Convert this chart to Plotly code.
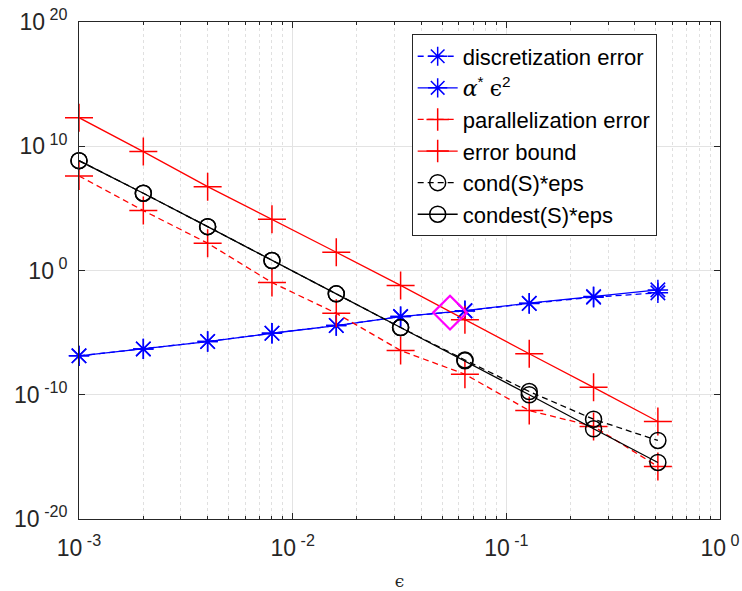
import plotly.graph_objects as go

eps_vals = [0.001, 0.002, 0.004, 0.008, 0.016, 0.032, 0.064, 0.128, 0.256, 0.512]

# log10 values
disc_err_log = [-6.87, -6.31, -5.72, -5.05, -4.43, -3.71, -3.25, -2.65, -2.15, -1.80]
alpha_eps2_log = [-6.87, -6.31, -5.72, -5.05, -4.43, -3.71, -3.23, -2.63, -2.10, -1.56]
par_err_log = [7.61, 4.82, 2.20, -0.97, -3.44, -6.44, -8.35, -11.27, -12.55, -15.78]
err_bound_log = [12.30, 9.57, 6.75, 4.13, 1.47, -1.20, -3.97, -6.70, -9.40, -12.15]
cond_log = [8.84, 6.22, 3.53, 0.80, -1.88, -4.59, -7.20, -9.74, -11.97, -13.68]
condest_log = [8.84, 6.22, 3.53, 0.80, -1.88, -4.59, -7.27, -10.00, -12.74, -15.45]
cross_x = [0.0545]
cross_y_log = [-3.39]

names = ["discretization error",
         "<span style=\"font-family:'DejaVu Serif',serif;font-style:italic\">\u03b1</span><sup>*</sup> "
         "<span style=\"font-family:'DejaVu Serif',serif\">\u03f5</span><sup>2</sup>",
         "parallelization error", "error bound", "cond(S)*eps", "condest(S)*eps"]

SUP = "<sup style=\"font-size:92%\">"
y_tick_vals = [1e-20, 1e-10, 1e0, 1e10, 1e20]
y_tick_text = ["10" + SUP + " -20</sup>", "10" + SUP + " -10</sup>", "10" + SUP + " 0</sup>",
               "10" + SUP + " 10</sup>", "10" + SUP + " 20</sup>"]
x_tick_vals = [1e-3, 1e-2, 1e-1, 1e0]
x_tick_text = ["10" + SUP + " -3</sup>", "10" + SUP + " -2</sup>", "10" + SUP + " -1</sup>",
               "10" + SUP + " 0</sup>"]

def p(v):
    return [10 ** a for a in v]

fig = go.Figure()
dash = "6px,4px"
lw = 1.3
series = [
    (disc_err_log, "#0000ff", dash, "asterisk-open", 17),
    (alpha_eps2_log, "#0000ff", "solid", "asterisk-open", 17),
    (par_err_log, "#ff0000", dash, "cross-thin-open", 20),
    (err_bound_log, "#ff0000", "solid", "cross-thin-open", 20),
    (cond_log, "#000000", dash, "circle-open", 16),
    (condest_log, "#000000", "solid", "circle-open", 16),
]
for (vals, col, d, sym, sz), nm in zip(series, names):
    fig.add_trace(go.Scatter(
        x=eps_vals, y=p(vals), name=nm, mode="lines+markers", cliponaxis=False,
        line=dict(color=col, width=lw, dash=d),
        marker=dict(symbol=sym, size=sz, color=col, line=dict(color=col, width=1.5)),
    ))

fig.add_trace(go.Scatter(
    x=cross_x, y=p(cross_y_log), mode="markers", showlegend=False, cliponaxis=False,
    marker=dict(symbol="diamond-open", size=26, color="#ff00ff", line=dict(color="#ff00ff", width=2.2)),
))

axis_common = dict(
    showline=True, linecolor="#262626", linewidth=1, mirror="allticks",
    ticks="inside", tickcolor="#262626", ticklen=6, automargin=False,
    tickfont=dict(family="Liberation Sans, Arial, sans-serif", size=23, color="#262626"),
    showgrid=True, gridcolor="#e3e3e3", gridwidth=1, zeroline=False,
)

fig.update_xaxes(
    type="log", range=[-3, 0], tickmode="array", tickvals=x_tick_vals, ticktext=x_tick_text,
    minor=dict(ticks="inside", ticklen=3, tickcolor="#262626", showgrid=True,
               gridcolor="#e0e0e0", griddash="dot", gridwidth=1, dtick="D1"),
    ticklabelstandoff=8,
    title=dict(text="\u03f5", font=dict(family="DejaVu Serif, serif", size=17, color="#262626"), standoff=20),
    **axis_common,
)
fig.update_yaxes(
    type="log", range=[-20, 20], tickmode="array", tickvals=y_tick_vals, ticktext=y_tick_text,
    ticklabelstandoff=6,
    **axis_common,
)

fig.update_layout(
    width=742, height=591,
    margin=dict(l=79, r=22, t=22, b=72, autoexpand=False),
    plot_bgcolor="white", paper_bgcolor="white",
    showlegend=True,
    legend=dict(
        x=0.519, y=0.975, xanchor="left", yanchor="top",
        bgcolor="white", bordercolor="#262626", borderwidth=1,
        font=dict(family="Liberation Sans, Arial, sans-serif", size=22, color="#000000"),
        itemwidth=40, tracegroupgap=0,
    ),
)

fig.write_html("out.html", config={"displayModeBar": False},
               post_script="document.body.style.margin='0';")
